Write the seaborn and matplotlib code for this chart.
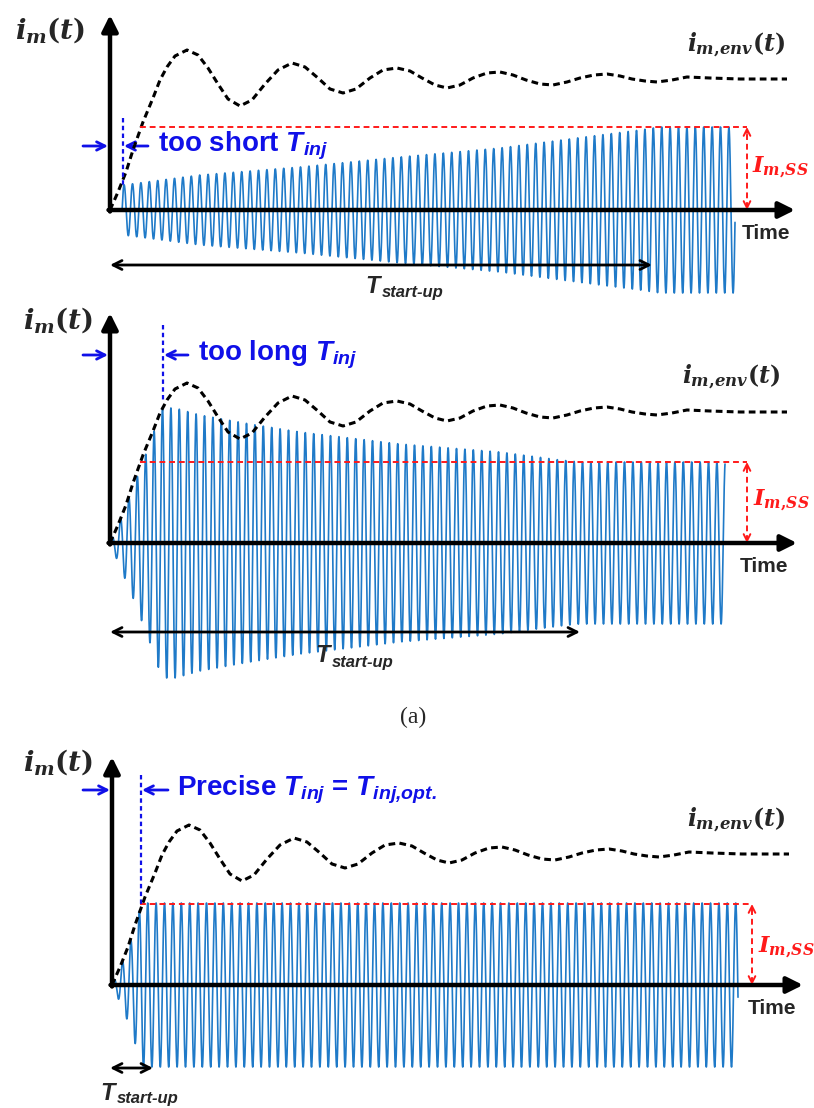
import numpy as np
import matplotlib
matplotlib.use("Agg")
import matplotlib.pyplot as plt
import seaborn as sns

# envelope i_m,env(t) (time offset, level) - same in all three panels
ENV_T = [0, 8, 16, 23, 33, 43, 50, 57, 65, 77, 88, 98, 108, 118, 130, 142, 155, 168, 182,
         195, 208, 220, 233, 246, 260, 273, 287, 300, 312, 325, 337, 350, 363, 377, 390,
         403, 416, 430, 443, 457, 470, 484, 497, 510, 522, 535, 547, 562, 577, 600, 630, 677]
ENV_V = [0, 18, 38, 60, 88, 112, 130, 143, 154, 160, 155, 142, 126, 111, 104, 110, 126, 140, 147,
         143, 132, 121, 117, 121, 132, 140, 142, 139, 132, 125, 122, 125, 132, 137, 138,
         135, 130, 126, 125, 128, 132, 135, 136, 134, 131, 129, 128, 130, 133, 132, 131, 131]

I_SS = [83, 81, 81]

# oscillation amplitude of i_m(t) in each case
SHORT_T = [12, 13, 90, 190, 290, 390, 490, 530, 550, 625]
SHORT_A = [10, 25, 35, 43, 53, 62, 75, 80, 83, 83]
LONG_T = [0, 23, 40, 52, 65, 90, 140, 190, 290, 390, 450, 470, 615]
LONG_A = [0, 55, 100, 135, 135, 128, 119, 111, 99, 91, 83, 81, 81]
OPT_T = [0, 10, 20, 29, 31, 626]
OPT_A = [0, 22, 47, 80, 82, 82]

PERIOD = 8.4
BLUE_SIG = "#1f7ac8"
BLUE = "#1010e8"
RED = "#ff1a1a"

sns.set_theme(style="white")
plt.rcParams["font.family"] = ["Liberation Sans", "DejaVu Sans"]
plt.rcParams["mathtext.fontset"] = "custom"
plt.rcParams["mathtext.it"] = "DejaVu Serif:italic:bold"
plt.rcParams["mathtext.rm"] = "DejaVu Serif:bold"
plt.rcParams["mathtext.sf"] = "Liberation Sans:italic:bold"

W, H = 814, 1108
fig = plt.figure(figsize=(W / 100, H / 100), dpi=100)


def panel(top, bottom, ox, oy):
    ax = fig.add_axes([0, 1 - bottom / H, 1, (bottom - top) / H])
    ax.set_xlim(-ox, W - ox)
    ax.set_ylim(-(bottom - oy), oy - top)
    ax.axis("off")
    return ax


def carrier(ax, amp_t, amp_v):
    t = np.linspace(amp_t[0], amp_t[-1], 8000)
    a = np.interp(t, amp_t, amp_v)
    y = a * np.sin(2 * np.pi * (t - amp_t[0]) / PERIOD)
    sns.lineplot(x=t, y=y, ax=ax, color=BLUE_SIG, lw=1.2, sort=False, estimator=None, zorder=2)


def envelope(ax):
    sns.lineplot(x=ENV_T, y=ENV_V, ax=ax, color="black", lw=2.2, sort=False, estimator=None,
                 dashes=False, zorder=4).lines[-1].set_dashes((2.2, 1.4))


def axes_arrows(ax, xtip, ytip):
    kw = dict(arrowstyle="-|>", color="black", lw=3.2, mutation_scale=24, shrinkA=0, shrinkB=0)
    ax.annotate("", xy=(xtip, 0), xytext=(-1.5, 0), arrowprops=kw, zorder=5)
    ax.annotate("", xy=(0, ytip), xytext=(0, -1.5), arrowprops=kw, zorder=5)


def common(ax, lvl, xtip, ytip, lab_im, lab_env, red_x0, red_x1, lab_iss, lab_time):
    axes_arrows(ax, xtip, ytip)
    ax.text(*lab_im, r"$i_m(t)$", fontsize=20, ha="center", va="center")
    ax.text(*lab_env, r"$i_{m{,}env}(t)$", fontsize=17, ha="center", va="center")
    ax.plot([red_x0, red_x1], [lvl, lvl], color=RED, lw=1.4, dashes=(3, 2), zorder=6)
    ax.plot([red_x1, red_x1], [2, lvl - 2], color=RED, lw=1.4, dashes=(3, 2), zorder=6)
    hk = dict(arrowstyle="->", color=RED, lw=1.4, mutation_scale=12, shrinkA=0, shrinkB=0)
    ax.annotate("", xy=(red_x1, lvl), xytext=(red_x1, lvl - 6), arrowprops=hk)
    ax.annotate("", xy=(red_x1, 0), xytext=(red_x1, 6), arrowprops=hk)
    ax.text(*lab_iss, r"$I_{m{,}SS}$", fontsize=16, color=RED, ha="left", va="center")
    ax.text(*lab_time, "Time", fontsize=15, fontweight="bold", ha="left", va="center")


def injection(ax, xline, y0, y1, ytxt, xa, xb, xtxt, text):
    ax.plot([xline, xline], [y0, y1], color=BLUE, lw=1.6, dashes=(2, 1.5), zorder=6)
    bk = dict(arrowstyle="->", color=BLUE, lw=2, mutation_scale=15, shrinkA=0, shrinkB=0)
    ax.annotate("", xy=(-2, ytxt), xytext=(xa, ytxt), arrowprops=bk)
    ax.annotate("", xy=(xline + 1, ytxt), xytext=(xb, ytxt), arrowprops=bk)
    ax.text(xtxt, ytxt, text, fontsize=20, color=BLUE, fontweight="bold", ha="left", va="center")


def startup(ax, x0, x1, y, xl, yl):
    ak = dict(arrowstyle="<->", color="black", lw=2, mutation_scale=16, shrinkA=0, shrinkB=0)
    ax.annotate("", xy=(x1, y), xytext=(x0, y), arrowprops=ak)
    ax.text(xl, yl, "T", fontsize=17, fontweight="bold", fontstyle="italic", ha="left", va="center")
    ax.text(xl + 17, yl - 6, "start-up", fontsize=12, fontweight="bold", fontstyle="italic",
            ha="left", va="center")


# (1) too short injection
ax1 = panel(0, 300, 110, 210)
carrier(ax1, SHORT_T, SHORT_A)
envelope(ax1)
common(ax1, I_SS[0], 685, 195, (-60, 180), (626, 165), 30, 637, (642, 43), (632, -23))
injection(ax1, 13, 92, 22, 64, -27, 38, 48, r"too short $\mathsf{T_{inj}}$")
startup(ax1, 0, 542, -55, 255, -76)

# (2) too long injection
ax2 = panel(300, 700, 110, 543)
carrier(ax2, LONG_T, LONG_A)
envelope(ax2)
common(ax2, I_SS[1], 687, 230, (-52, 223), (621, 166), 30, 637, (643, 43), (630, -24))
injection(ax2, 53, 218, 141, 188, -27, 78, 88, r"too long $\mathsf{T_{inj}}$")
startup(ax2, 0, 470, -89, 205, -113)

fig.text(413 / W, 1 - 717 / H, "(a)", fontsize=17, family="Liberation Serif", ha="center", va="center")

# (3) precise injection
ax3 = panel(730, 1108, 112, 985)
carrier(ax3, OPT_T, OPT_A)
envelope(ax3)
common(ax3, I_SS[2], 691, 228, (-54, 223), (624, 165), 28, 640, (646, 38), (636, -23))
injection(ax3, 29, 210, 81, 195, -29, 56, 65,
          r"Precise $\mathsf{T_{inj}}$ = $\mathsf{T_{inj{,}opt.}}$")
startup(ax3, -2, 41, -83, -12, -108)

fig.savefig("out.png", dpi=100, facecolor="white")
